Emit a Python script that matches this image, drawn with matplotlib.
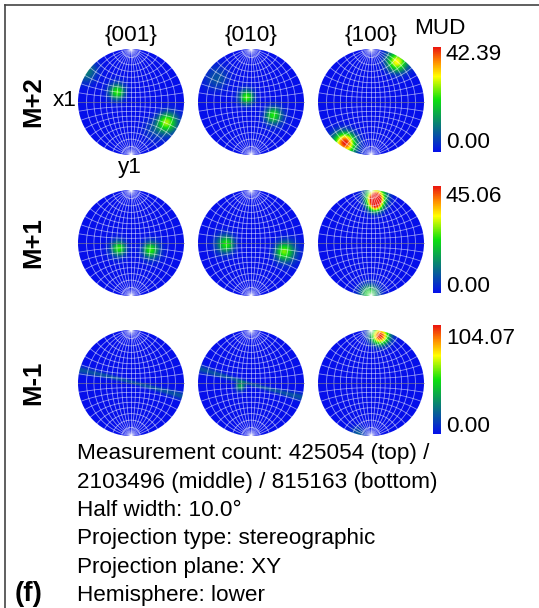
import numpy as np
import matplotlib
matplotlib.use('Agg')
import matplotlib.pyplot as plt
from matplotlib.colors import LinearSegmentedColormap, Normalize
from matplotlib.cm import ScalarMappable
from matplotlib.patches import Circle

plt.rcParams['font.family'] = ['Liberation Sans', 'DejaVu Sans']

# ---- data ----
rows = ['M+2', 'M+1', 'M-1']
planes = ['{001}', '{010}', '{100}']
mud_max = [42.39, 45.06, 104.07]

# density maxima: (x, y) in the projection (unit circle), peak MUD, half width [deg]
spots_m2 = {
    '{001}': [(-0.26, 0.19, 23, 12.5), (0.68, -0.38, 26, 11), (-0.84, 0.58, 11, 10), (0.45, -0.50, 6, 13)],
    '{010}': [(-0.08, 0.09, 24, 12.5), (0.42, -0.25, 22, 12), (-0.64, 0.45, 7, 13)],
    '{100}': [(0.49, 0.76, 31, 10.5), (-0.49, -0.77, 42.39, 11)],
}
spots_m1p = {
    '{001}': [(-0.23, -0.10, 24, 12.5), (0.37, -0.13, 24, 12.5)],
    '{010}': [(-0.47, -0.02, 24, 12.5), (0.63, -0.16, 27, 12)],
    '{100}': [(0.09, 0.87, 45.06, 9.5), (0.08, 0.72, 36, 9), (-0.03, -0.95, 22, 9)],
}
spots_m1m = {
    '{001}': [],
    '{010}': [(-0.20, -0.06, 36, 8)],
    '{100}': [(0.17, 0.89, 104.07, 9), (-0.25, -0.97, 20, 7)],
}
# girdles: two points on the band (x1, y1, x2, y2), peak MUD, half width [deg]
girdles_m1m = {
    '{001}': [(-0.96, 0.245, 0.0, 0.02, 17, 3.5)],
    '{010}': [(-0.96, 0.27, 0.0, -0.02, 17, 3.5)],
}
row_spots = [spots_m2, spots_m1p, spots_m1m]
row_girdles = [{}, {}, girdles_m1m]

info = ['Measurement count: 425054 (top) /',
        '2103496 (middle) / 815163 (bottom)',
        'Half width: 10.0\u00b0',
        'Projection type: stereographic',
        'Projection plane: XY',
        'Hemisphere: lower']

# ---- layout (pixels) ----
W, H = 539, 608
pf_cx = [131, 251, 371]
pf_cy = [102, 243, 383]
R = 53
cbar_box = [(433, 47, 8, 105), (433, 186, 8, 107), (433, 325, 8, 109)]
cbar_top_lab = [54, 196, 338]
cbar_bot_lab = [143, 287, 427]

cmap = LinearSegmentedColormap.from_list('mud', [
    (0.0, (0.02, 0.06, 0.92)),
    (0.5, (0.05, 0.88, 0.05)),
    (0.72, (1.0, 1.0, 0.0)),
    (0.86, (1.0, 0.55, 0.0)),
    (1.0, (0.92, 0.08, 0.06))])


def to_vec(x, y):
    r2 = x**2 + y**2
    return np.array([2*x/(1+r2), 2*y/(1+r2), -(1-r2)/(1+r2)])


def density(spots, girdles, n=240):
    g = np.linspace(-1, 1, n)
    X, Y = np.meshgrid(g, g)
    V = to_vec(X, Y)
    D = np.zeros_like(X)
    for (px, py, peak, hw) in spots:
        c = to_vec(px, py)
        cs = V[0]*c[0] + V[1]*c[1] + V[2]*c[2]
        ang = np.degrees(np.arccos(np.clip(cs, -1, 1)))
        D += peak*np.exp(-np.log(2)*(ang/hw)**2)
    for (x1, y1, x2, y2, peak, hw) in girdles:
        nrm = np.cross(to_vec(x1, y1), to_vec(x2, y2))
        nrm = nrm/np.linalg.norm(nrm)
        sn = np.abs(V[0]*nrm[0] + V[1]*nrm[1] + V[2]*nrm[2])
        ang = np.degrees(np.arcsin(np.clip(sn, 0, 1)))
        D += peak*np.exp(-np.log(2)*(ang/hw)**2)
    return D


def wulff_net():
    lines = []
    t = np.radians(np.linspace(-90, 90, 181))
    for lon in range(-80, 81, 10):
        lam = np.radians(lon)
        d = 1 + np.cos(t)*np.cos(lam)
        lines.append((np.cos(t)*np.sin(lam)/d, np.sin(t)/d))
    for lat in range(-80, 81, 10):
        phi = np.radians(lat)
        d = 1 + np.cos(phi)*np.cos(t)
        lines.append((np.cos(phi)*np.sin(t)/d, np.sin(phi)/d))
    return lines


fig = plt.figure(figsize=(W/100, H/100), dpi=100)
ax = fig.add_axes([0, 0, 1, 1])
ax.set_xlim(0, W)
ax.set_ylim(H, 0)
ax.axis('off')

fs = 16.2
net = wulff_net()
for i in range(3):
    cy = pf_cy[i]
    for j, pl in enumerate(planes):
        cx = pf_cx[j]
        D = density(row_spots[i].get(pl, []), row_girdles[i].get(pl, []))
        im = ax.imshow(D, cmap=cmap, vmin=0, vmax=mud_max[i], origin='lower',
                       extent=(cx-R, cx+R, cy+R, cy-R), interpolation='bilinear')
        circ = Circle((cx, cy), R, transform=ax.transData, facecolor='none', edgecolor='none')
        ax.add_patch(circ)
        im.set_clip_path(circ)
        for (lx, ly) in net:
            ax.plot(cx + R*lx, cy - R*ly, color='white', lw=0.6, alpha=0.55)
        ax.plot([cx-R, cx+R], [cy, cy], color='black', lw=0.6, alpha=0.35)
        if i == 0:
            ax.text(cx, 35, pl, ha='center', va='center', fontsize=fs)
    ax.text(33, cy, rows[i], rotation=90, ha='center', va='center',
            fontsize=18.5, fontweight='bold')

    # colour bar
    bx, by, bw, bh = cbar_box[i]
    cax = fig.add_axes([bx/W, 1-(by+bh)/H, bw/W, bh/H])
    cb = fig.colorbar(ScalarMappable(norm=Normalize(0, mud_max[i]), cmap=cmap), cax=cax)
    cb.set_ticks([])
    cb.outline.set_visible(False)
    ax.text(446, cbar_top_lab[i], '%.2f' % mud_max[i], ha='left', va='center', fontsize=fs)
    ax.text(446, cbar_bot_lab[i], '0.00', ha='left', va='center', fontsize=fs)

ax.text(414, 28, 'MUD', ha='left', va='center', fontsize=fs)
ax.text(65, 100, 'x1', ha='center', va='center', fontsize=fs)
ax.text(130, 168, 'y1', ha='center', va='center', fontsize=fs)

for k, line in enumerate(info):
    ax.text(77, 454 + k*28.3, line, ha='left', va='center', fontsize=fs)
ax.text(15, 601, '(f)', ha='left', va='baseline', fontsize=20, fontweight='bold')

# frame of the sub-panel
ax.plot([5, W], [5, 5], color='#444444', lw=1.2)
ax.plot([5, 5], [5, H], color='#444444', lw=1.2)

fig.savefig('out.png', dpi=100)
